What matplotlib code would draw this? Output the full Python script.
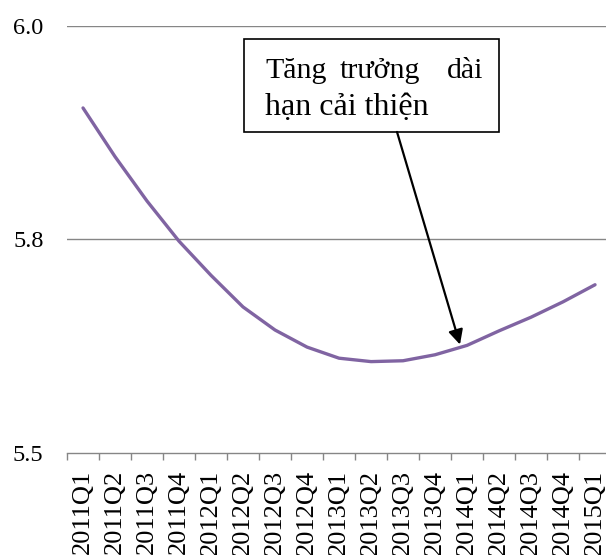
# plot of long-run growth trend (Tăng trưởng dài hạn cải thiện)

import matplotlib
matplotlib.use('Agg')
import matplotlib.pyplot as plt
from matplotlib.patches import Rectangle

plt.rcParams['font.family'] = ['Liberation Serif', 'DejaVu Serif']

# data
quarters = ['2011Q1', '2011Q2', '2011Q3', '2011Q4',
            '2012Q1', '2012Q2', '2012Q3', '2012Q4',
            '2013Q1', '2013Q2', '2013Q3', '2013Q4',
            '2014Q1', '2014Q2', '2014Q3', '2014Q4',
            '2015Q1']
trend = [5.904, 5.847, 5.795, 5.748,
         5.708, 5.671, 5.644, 5.624,
         5.611, 5.607, 5.608, 5.615,
         5.626, 5.643, 5.659, 5.677,
         5.697]
y_ticks = [5.5, 5.75, 6.0]
y_labels = ['5.5', '5.8', '6.0']
note_line1 = ['Tăng', 'trưởng', 'dài']
note_line2 = 'hạn cải thiện'

fig = plt.figure(figsize=(6.06, 5.55), dpi=100)
ax = fig.add_axes([0.1106, 0.1838, 0.8977, 0.7694])  # [left, bottom, width, height]

x = list(range(len(quarters)))
ax.plot(x, trend, color='#8064A2', lw=2.4, solid_capstyle='round', zorder=3)

# limits
ax.set_xlim(-0.5, len(quarters) - 0.5)
ax.set_ylim(5.5, 6.0)

# gridlines
for yv in y_ticks[1:]:
    ax.axhline(yv, color='#868686', lw=1.0, zorder=1)

# spines
for s in ['left', 'right', 'top']:
    ax.spines[s].set_visible(False)
ax.spines['bottom'].set_color('#868686')
ax.spines['bottom'].set_linewidth(1.0)

# ticks
ax.set_yticks(y_ticks)
ax.set_yticklabels(y_labels, fontsize=17.5)
ax.tick_params(axis='y', length=0, pad=17)

ax.set_xticks(x)
ax.set_xticklabels(quarters, rotation=90, fontsize=19)
ax.tick_params(axis='x', which='major', length=0, pad=12)
ax.set_xticks([i - 0.5 for i in x], minor=True)
ax.tick_params(axis='x', which='minor', length=5, width=1.0, color='#868686', direction='out')

# annotation box
ax.add_patch(Rectangle((0.325, 0.7518), 0.469, 0.2178, transform=ax.transAxes,
                       facecolor='white', edgecolor='black', lw=1.2,
                       clip_on=False, zorder=4))
ax.text(0.364, 0.878, note_line1[0], transform=ax.transAxes, fontsize=21.5,
        ha='left', va='baseline', zorder=5)
ax.text(0.5754, 0.878, note_line1[1], transform=ax.transAxes, fontsize=21.5,
        ha='center', va='baseline', zorder=5)
ax.text(0.7647, 0.878, note_line1[2], transform=ax.transAxes, fontsize=21.5,
        ha='right', va='baseline', zorder=5)
ax.text(0.364, 0.7916, note_line2, transform=ax.transAxes, fontsize=23,
        ha='left', va='baseline', zorder=5)

# arrow
ax.annotate('', xy=(11.78, 5.627), xycoords='data',
            xytext=(0.6066, 0.7518), textcoords='axes fraction',
            arrowprops=dict(arrowstyle='-|>', color='black', lw=1.6,
                            mutation_scale=22, shrinkA=0, shrinkB=0),
            zorder=5)

fig.savefig('out.png', dpi=100)
